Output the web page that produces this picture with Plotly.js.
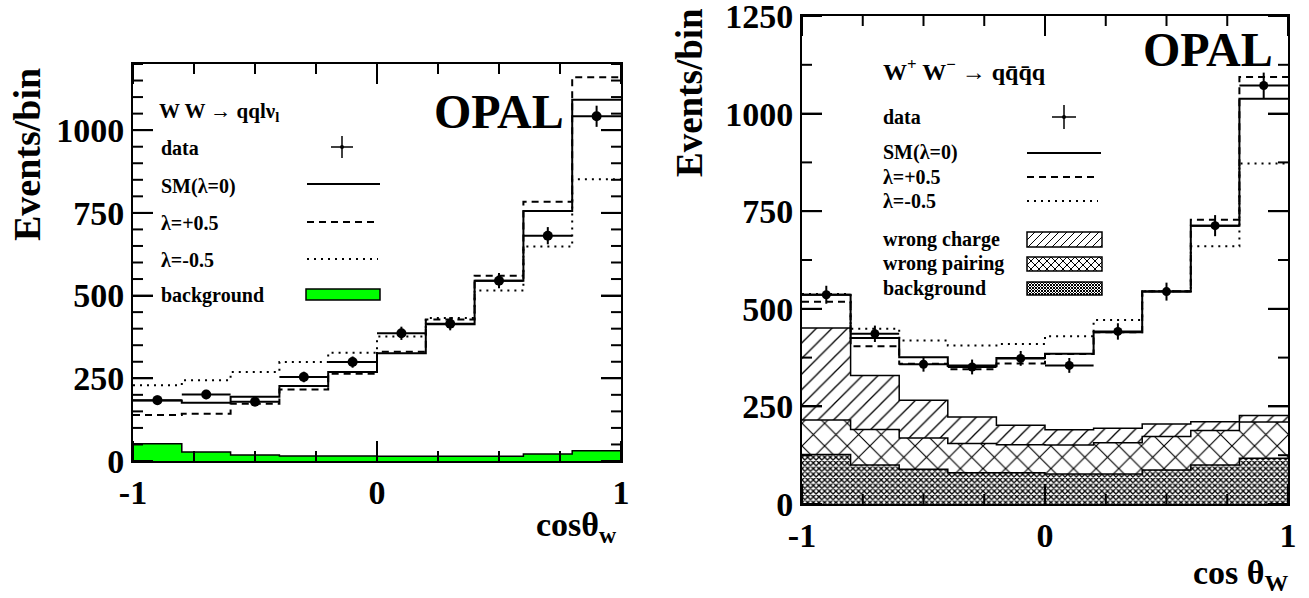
<!DOCTYPE html>
<html><head><meta charset="utf-8">
<script src="https://cdn.plot.ly/plotly-3.0.1.min.js"></script>
<style>html,body{margin:0;padding:0;background:#fff}#chart{width:1309px;height:598px}</style>
</head><body><div id="chart"></div>
<script>
// ---------- data ----------
const binEdges   = [-1, -0.8, -0.6, -0.4, -0.2, 0, 0.2, 0.4, 0.6, 0.8, 1];
const binCenters = [-0.9, -0.7, -0.5, -0.3, -0.1, 0.1, 0.3, 0.5, 0.7, 0.9];
const xTickVals  = [-1, 0, 1];
const xTickText  = ['-1', '0', '1'];

// left panel: W W -> q q l nu
const lepData    = [184, 201, 179, 254, 299, 386, 415, 545, 681, 1042];
const lepDataErr = [14, 14, 13, 16, 17, 20, 20, 23, 26, 32];
const lepSM      = [183, 176, 194, 227, 269, 326, 413, 545, 756, 1092];
const lepPlus    = [139, 143, 173, 216, 264, 330, 428, 560, 784, 1160];
const lepMinus   = [229, 244, 269, 299, 327, 376, 432, 515, 648, 852];
const lepBkg     = [52, 27, 18, 15, 15, 14, 14, 14, 21, 31];

// right panel: W+ W- -> q qbar qbar q
const hadData    = [536, 436, 358, 351, 373, 355, 442, 544, 713, 1072];
const hadDataErr = [23, 21, 19, 19, 19, 19, 21, 23, 27, 33];
const hadSM      = [536, 425, 376, 355, 374, 385, 440, 544, 713, 1038];
const hadPlus    = [518, 404, 359, 345, 360, 384, 440, 545, 728, 1094];
const hadMinus   = [538, 449, 419, 406, 410, 430, 471, 545, 660, 872];
const hadBkg     = [127, 100, 89, 80, 80, 77, 77, 87, 100, 117];
const hadWrongPairing = [88, 91, 80, 75, 72, 74, 80, 86, 88, 93];
const hadWrongCharge  = [236, 138, 97, 68, 50, 39, 37, 32, 23, 17];

// ---------- helpers ----------
const FONT = 'Liberation Serif, Times New Roman, serif';
const W = 1309, H = 598;
const px = x => x / W, py = y => 1 - y / H;
const stepY = v => v.concat([v[v.length - 1]]);
const cumsum = (...arrs) => arrs[0].map((_, i) => arrs.reduce((s, a) => s + a[i], 0));
const halfBin = (binEdges[1] - binEdges[0]) / 2;

function step(vals, xa, ya, width, dash) {
  return {type: 'scatter', mode: 'lines', x: binEdges, y: stepY(vals), xaxis: xa, yaxis: ya,
    line: {shape: 'hv', color: 'black', width: width, dash: dash || 'solid'}, hoverinfo: 'skip', showlegend: false};
}
function dataTrace(vals, errs, xa, ya, size) {
  return {type: 'scatter', mode: 'markers', x: binCenters, y: vals, xaxis: xa, yaxis: ya,
    marker: {color: 'black', size: size, symbol: 'circle'},
    error_y: {type: 'data', array: errs, visible: true, width: 0, thickness: 2, color: 'black'},
    error_x: {type: 'constant', value: halfBin, visible: true, width: 0, thickness: 2, color: 'black'},
    showlegend: false, hoverinfo: 'skip'};
}
function bars(vals, xa, ya, color, pattern) {
  const t = {type: 'bar', x: binCenters, y: vals, xaxis: xa, yaxis: ya, width: binCenters.map(() => 2 * halfBin),
    marker: {color: color, line: {width: 0}}, showlegend: false, hoverinfo: 'skip'};
  if (pattern) t.marker.pattern = Object.assign({fgcolor: 'black', bgcolor: 'white', fillmode: 'replace'}, pattern);
  return t;
}

const DASH = '7px,5px', DOT = '2px,5px';
const PAT_WC = {shape: '/', size: 11, solidity: 0.12};
const PAT_WP = {shape: 'x', size: 16, solidity: 0.14};
const PAT_BG = {shape: 'x', size: 4, solidity: 0.55};

const traces = [
  // left
  bars(lepBkg, 'x', 'y', '#00ff00'),
  step(lepBkg, 'x', 'y', 1.5),
  step(lepMinus, 'x', 'y', 2, DOT),
  step(lepPlus, 'x', 'y', 2, DASH),
  step(lepSM, 'x', 'y', 2),
  dataTrace(lepData, lepDataErr, 'x', 'y', 10),
  // right
  bars(hadBkg, 'x2', 'y2', 'white', PAT_BG),
  bars(hadWrongPairing, 'x2', 'y2', 'white', PAT_WP),
  bars(hadWrongCharge, 'x2', 'y2', 'white', PAT_WC),
  step(hadBkg, 'x2', 'y2', 1.5),
  step(cumsum(hadBkg, hadWrongPairing), 'x2', 'y2', 1.5),
  step(cumsum(hadBkg, hadWrongPairing, hadWrongCharge), 'x2', 'y2', 1.5),
  step(hadMinus, 'x2', 'y2', 2, DOT),
  step(hadPlus, 'x2', 'y2', 2, DASH),
  step(hadSM, 'x2', 'y2', 2),
  dataTrace(hadData, hadDataErr, 'x2', 'y2', 9)
];

const tickFont = {family: FONT, size: 34, color: 'black', weight: 'bold'};
const LPX = {x0: 133, x1: 621, y0: 64, y1: 461};
const RPX = {x0: 802, x1: 1288, y0: 16, y1: 504};
const LX = [px(LPX.x0), px(LPX.x1)], LY = [py(LPX.y1), py(LPX.y0)];
const RX = [px(RPX.x0), px(RPX.x1)], RY = [py(RPX.y1), py(RPX.y0)];
const LRANGE = [0, 1200], RRANGE = [0, 1250];

function frameAxis(dom, anchor, range, extra) {
  return Object.assign({domain: dom, anchor: anchor, range: range, showline: true, linewidth: 2, linecolor: '#000000',
    mirror: 'allticks', ticks: 'inside', ticklen: 20, tickwidth: 2, tickcolor: '#000000',
    showgrid: false, zeroline: false, tickfont: tickFont, ticklabeloverflow: 'allow'}, extra);
}

const layout = {
  width: W, height: H, margin: {l: 0, r: 0, t: 0, b: 0}, paper_bgcolor: 'white', plot_bgcolor: 'white',
  barmode: 'stack', bargap: 0, hovermode: false, showlegend: false,
  xaxis: frameAxis(LX, 'y', [-1, 1], {tickmode: 'array', tickvals: xTickVals, ticktext: xTickText, ticklabelstandoff: 0}),
  yaxis: frameAxis(LY, 'x', LRANGE, {tickmode: 'linear', tick0: 0, dtick: 250}),
  xaxis2: frameAxis(RX, 'y2', [-1, 1], {tickmode: 'array', tickvals: xTickVals, ticktext: xTickText, ticklabelstandoff: 0}),
  yaxis2: frameAxis(RY, 'x2', RRANGE, {tickmode: 'linear', tick0: 0, dtick: 250}),
  annotations: [],
  shapes: [],
  images: []
};

// tick marks on all four sides of a frame, drawn above the histograms
function frameTicks(xa, ya, box, yMax, yMajor, yMinor, xMajor, xMinor) {
  const wpx = box.x1 - box.x0, hpx = box.y1 - box.y0;
  const tick = (isMajor) => isMajor ? 20 : 10;
  const add = (s) => layout.shapes.push(Object.assign({type: 'line', layer: 'above', line: {color: 'black', width: 2}}, s));
  for (let k = 0; k * yMinor <= yMax + 1e-9; k++) {
    const v = k * yMinor, major = Math.abs(v / yMajor - Math.round(v / yMajor)) < 1e-9, f = tick(major) / wpx;
    add({xref: xa + ' domain', yref: ya, x0: 0, x1: f, y0: v, y1: v});
    add({xref: xa + ' domain', yref: ya, x0: 1, x1: 1 - f, y0: v, y1: v});
  }
  for (let k = 0; -1 + k * xMinor <= 1 + 1e-9; k++) {
    const v = -1 + k * xMinor, major = Math.abs(v / xMajor - Math.round(v / xMajor)) < 1e-9, f = tick(major) / hpx;
    add({xref: xa, yref: ya + ' domain', x0: v, x1: v, y0: 0, y1: f});
    add({xref: xa, yref: ya + ' domain', x0: v, x1: v, y0: 1, y1: 1 - f});
  }
}
frameTicks('x', 'y', LPX, LRANGE[1], 250, 50, 1, 0.25);
frameTicks('x2', 'y2', RPX, RRANGE[1], 250, 125, 1, 0.25);

function txt(text, x, y, size, opts) {
  layout.annotations.push(Object.assign({text: text, xref: 'paper', yref: 'paper', x: px(x), y: py(y), xanchor: 'left', yanchor: 'middle',
    showarrow: false, font: {family: FONT, size: size, color: 'black', weight: 'bold'}}, opts || {}));
}
function hline(x0, x1, y, width, dash) {
  layout.shapes.push({type: 'line', xref: 'paper', yref: 'paper', x0: px(x0), x1: px(x1), y0: py(y), y1: py(y), line: {color: 'black', width: width, dash: dash || 'solid'}});
}
function vline(x, y0, y1, width) {
  layout.shapes.push({type: 'line', xref: 'paper', yref: 'paper', x0: px(x), x1: px(x), y0: py(y0), y1: py(y1), line: {color: 'black', width: width}});
}
function cross(x, y, hw) {
  hline(x - hw, x + hw, y, 1.5); vline(x, y - hw, y + hw, 1.5);
  layout.shapes.push({type: 'circle', xref: 'paper', yref: 'paper', x0: px(x - 2), x1: px(x + 2), y0: py(y + 2), y1: py(y - 2), fillcolor: 'black', line: {width: 0}});
}
// legend swatch: hatch pattern image + black border
function swatchBox(x0, y0, x1, y1, cell, paths, sw) {
  const w = x1 - x0, h = y1 - y0;
  const svg = "<svg xmlns='http://www.w3.org/2000/svg' width='" + w + "' height='" + h + "'>" +
    "<defs><pattern id='p' width='" + cell + "' height='" + cell + "' patternUnits='userSpaceOnUse'>" +
    "<path d='" + paths + "' stroke='black' stroke-width='" + sw + "' fill='none'/></pattern></defs>" +
    "<rect width='" + w + "' height='" + h + "' fill='white'/><rect width='" + w + "' height='" + h + "' fill='url(#p)'/></svg>";
  layout.images.push({source: 'data:image/svg+xml;charset=utf-8,' + encodeURIComponent(svg), xref: 'paper', yref: 'paper',
    x: px(x0), y: py(y0), sizex: w / W, sizey: h / H, xanchor: 'left', yanchor: 'top', sizing: 'stretch', layer: 'above'});
  layout.shapes.push({type: 'rect', xref: 'paper', yref: 'paper', x0: px(x0), x1: px(x1), y0: py(y1), y1: py(y0), line: {color: 'black', width: 1.5}});
}

// axis titles
txt('Events/bin', 27, 155, 38, {textangle: -90, xanchor: 'center'});
txt('Events/bin', 689, 92, 37, {textangle: -90, xanchor: 'center'});
txt('cosθ<sub>w</sub>', 619, 527, 34, {xanchor: 'right'});
txt('cos θ<sub>W</sub>', 1291, 575, 34, {xanchor: 'right'});

// left legend
txt('OPAL', 432, 112, 48);
txt('W W → qqlν<sub>l</sub>', 157, 112, 21);
txt('data', 159, 148, 20); cross(342, 147, 11);
txt('SM(λ=0)', 159, 186, 20); hline(307, 380, 184, 2);
txt('λ=+0.5', 159, 223, 20); hline(307, 375, 222, 2, DASH);
txt('λ=-0.5', 159, 260, 20); hline(307, 378, 259, 2, DOT);
txt('background', 159, 295, 20);
layout.shapes.push({type: 'rect', xref: 'paper', yref: 'paper', x0: px(306), x1: px(380), y0: py(300), y1: py(289), fillcolor: '#00ff00', line: {color: 'black', width: 1.5}});

// right legend
txt('OPAL', 1141, 50, 48);
txt('W<sup>+</sup> W<sup>−</sup> → qq̄q̄q', 881, 70, 24);
txt('data', 881, 117, 20); cross(1064, 117, 12);
txt('SM(λ=0)', 881, 153, 20); hline(1027, 1101, 153, 2);
txt('λ=+0.5', 881, 177, 20); hline(1027, 1096, 177, 2, DASH);
txt('λ=-0.5', 881, 201, 20); hline(1027, 1098, 201, 2, DOT);
txt('wrong charge', 881, 240, 20);
txt('wrong pairing', 881, 264, 20);
txt('background', 881, 288, 20);
swatchBox(1027, 232, 1102, 247, 8, 'M0,8 L8,0 M-2,2 L2,-2 M6,10 L10,6', 1);
swatchBox(1027, 257, 1102, 271, 8, 'M0,8 L8,0 M-2,2 L2,-2 M6,10 L10,6 M0,0 L8,8 M-2,6 L2,10 M6,-2 L10,2', 1);
swatchBox(1027, 282, 1102, 295, 3, 'M0,3 L3,0 M0,0 L3,3', 1);

Plotly.newPlot('chart', traces, layout, {displayModeBar: false});
</script>
</body></html>
